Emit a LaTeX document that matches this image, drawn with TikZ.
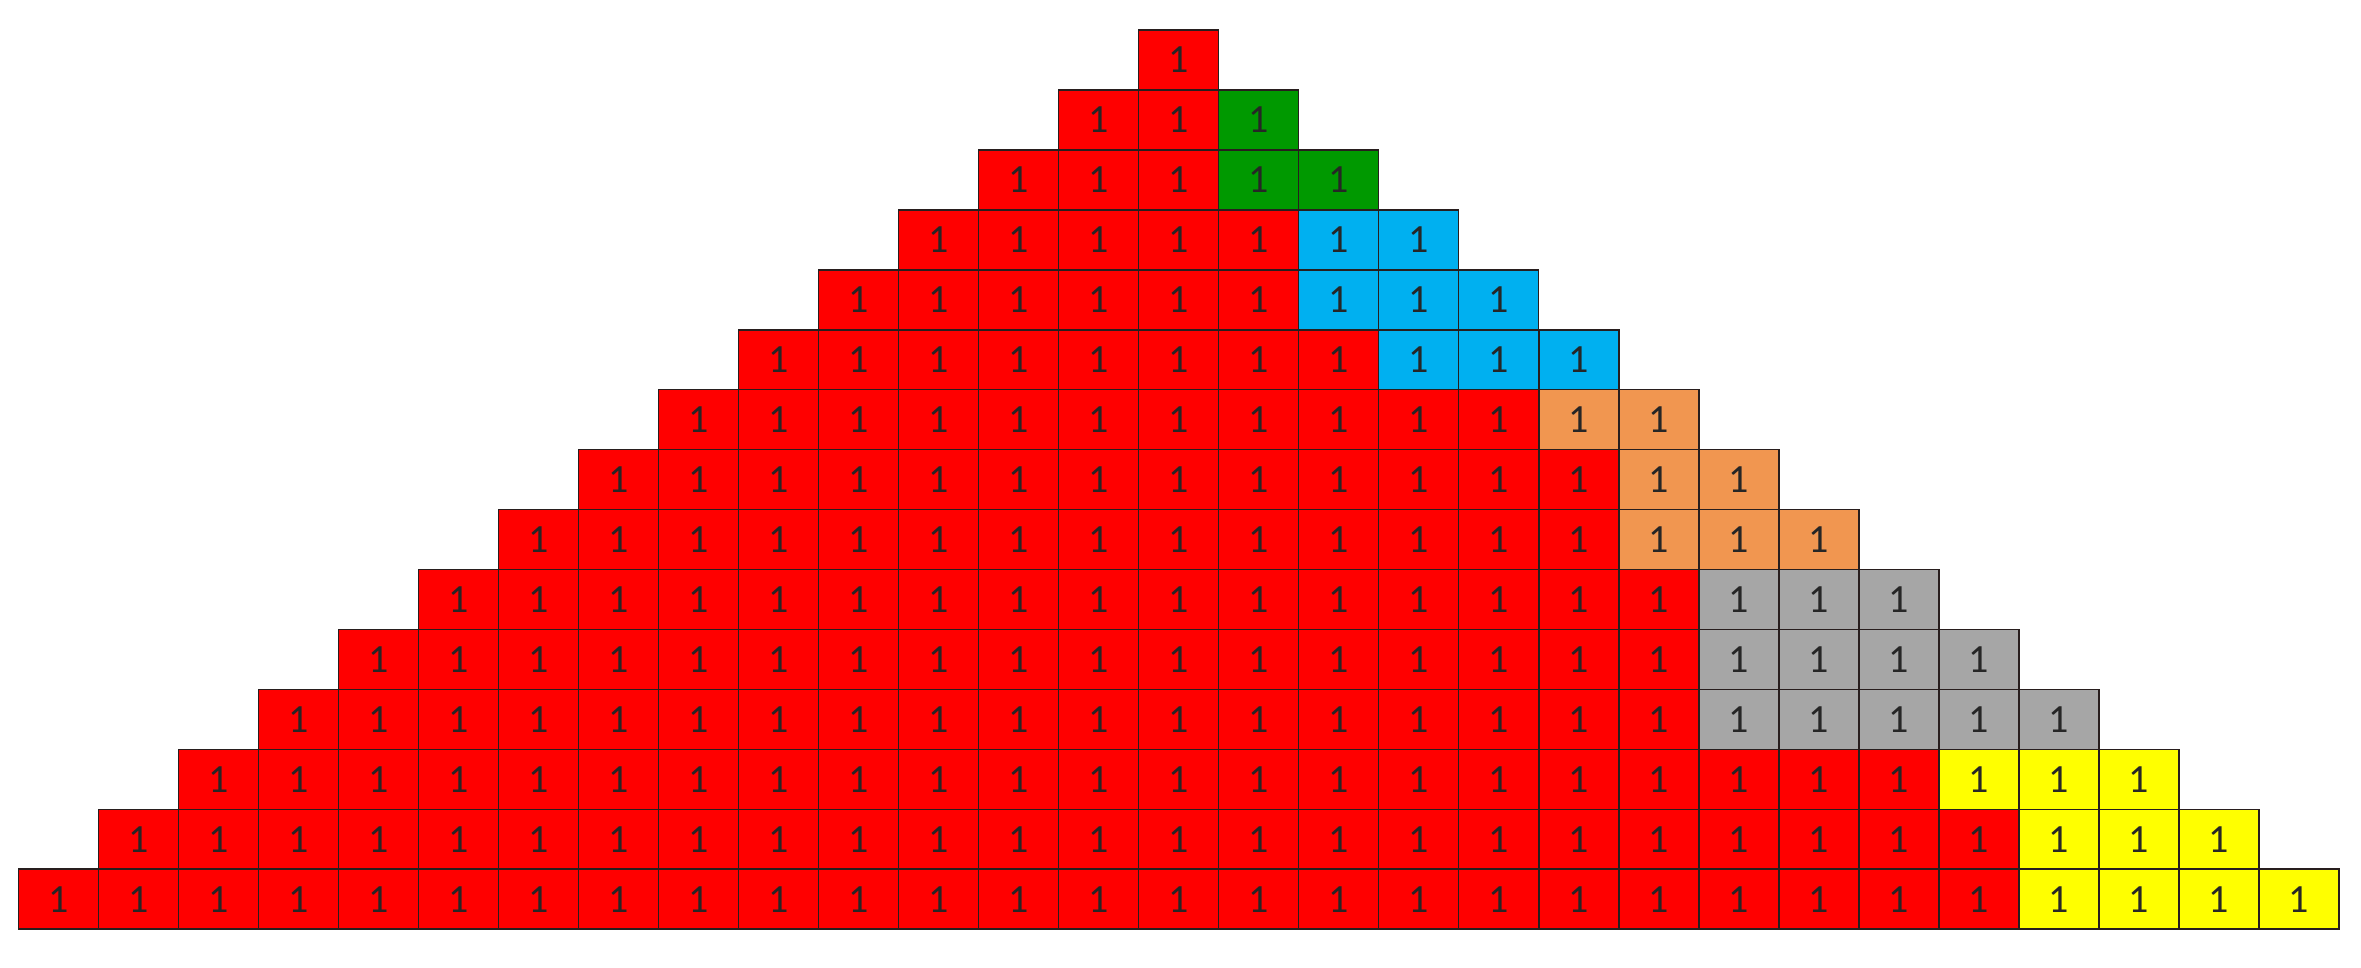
\documentclass[tikz,border=0pt]{standalone}
\usepackage{fontspec}
\setmainfont{Carlito}
\definecolor{cred}{RGB}{255,0,0}
\definecolor{cgreen}{RGB}{0,153,0}
\definecolor{cblue}{RGB}{0,176,240}
\definecolor{corange}{RGB}{241,150,80}
\definecolor{cgray}{RGB}{166,166,166}
\definecolor{cyellow}{RGB}{255,255,0}
\definecolor{cline}{RGB}{40,30,30}
\begin{document}
\begin{tikzpicture}[x=1pt,y=1pt,
  cell/.style={draw=cline, line width=1.6pt, minimum width=80pt, minimum height=60pt,
    inner sep=0pt, outer sep=0pt, text=black!85, font=\fontsize{40}{48}\selectfont}]
\useasboundingbox (0,0) rectangle (2361,-968);
\foreach \r/\s/\col in {1/15/cred,2/15/cgreen,3/15/cgreen,4/16/cblue,5/16/cblue,6/17/cblue,
  7/19/corange,8/20/corange,9/20/corange,10/21/cgray,11/21/cgray,12/21/cgray,
  13/24/cyellow,14/25/cyellow,15/25/cyellow}{
  \pgfmathtruncatemacro\a{15-\r}
  \pgfmathtruncatemacro\b{13+\r}
  \pgfmathsetmacro\yy{-(30+59.95*(\r-1)+29.975)}
  \foreach \c in {\a,...,\b}{
    \ifnum\c<\s \def\fc{cred}\else \edef\fc{\col}\fi
    \pgfmathsetmacro\xx{18.3+80.02*\c+40.01}
    \node[cell, fill=\fc] (c-\r-\c) at (\xx,\yy) {1};
  }
}
\end{tikzpicture}
\end{document}
